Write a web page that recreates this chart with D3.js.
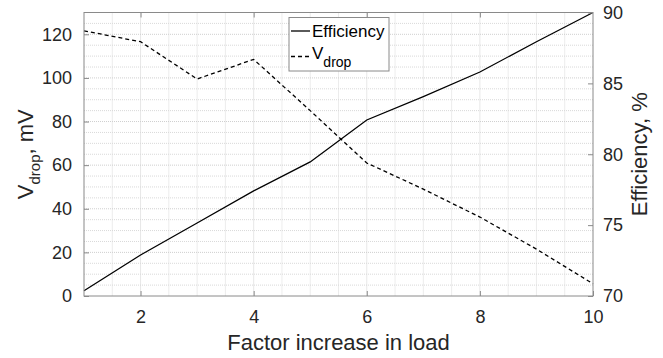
<!DOCTYPE html>
<html>
<head>
<meta charset="utf-8">
<title>Efficiency and Vdrop</title>
<script src="https://d3js.org/d3.v7.min.js"></script>
<style>
body { margin: 0; background: #fff; }
svg { font-family: "Liberation Sans", Arial, sans-serif; }
.tick text { fill: #262626; font-size: 18px; }
.line { fill: none; stroke: #000; stroke-width: 1.3px; }
</style>
</head>
<body>
<script>
// data
var loadFactor = [1, 2, 3, 4, 5, 6, 7, 8, 9, 10];
var efficiency = [70.37, 72.89, 75.15, 77.42, 79.46, 82.42, 84.07, 85.8, 87.94, 90.0];
var vdrop = [121.6, 116.6, 99.5, 108.5, 85, 61, 49, 36.2, 21.5, 5.6];
var xTicks = [2, 4, 6, 8, 10];
var leftTicks = [0, 20, 40, 60, 80, 100, 120];
var rightTicks = [70, 75, 80, 85, 90];

var width = 663, height = 358;
var margin = {top: 12.5, right: 70, bottom: 62, left: 84};
var w = width - margin.left - margin.right;
var h = height - margin.top - margin.bottom;

var svg = d3.select("body").append("svg")
  .attr("width", width).attr("height", height);
var g = svg.append("g")
  .attr("transform", "translate(" + margin.left + "," + margin.top + ")");

var x = d3.scaleLinear().domain([1, 10]).range([0, w]);
var yL = d3.scaleLinear().domain([0, 130]).range([h, 0]);
var yR = d3.scaleLinear().domain([70, 90]).range([h, 0]);

// grid (major + minor, dotted)
var grid = g.append("g");
grid.selectAll(".vmin").data(d3.range(1.5, 10, 0.5)).enter().append("line")
  .attr("x1", d => x(d)).attr("x2", d => x(d)).attr("y1", 0).attr("y2", h)
  .attr("stroke", d => d % 2 == 0 ? "#cfcfcf" : "#d9d9d9")
  .attr("stroke-dasharray", "1,1");
grid.selectAll(".hmin").data(d3.range(5, 130, 5)).enter().append("line")
  .attr("y1", d => yL(d)).attr("y2", d => yL(d)).attr("x1", 0).attr("x2", w)
  .attr("stroke", d => d % 20 == 0 ? "#cfcfcf" : "#d9d9d9")
  .attr("stroke-dasharray", "1,1");

// lines
var effLine = d3.line().x((d, i) => x(loadFactor[i])).y(d => yR(d));
var vLine = d3.line().x((d, i) => x(loadFactor[i])).y(d => yL(d));
g.append("path").datum(efficiency).attr("class", "line").attr("d", effLine);
g.append("path").datum(vdrop).attr("class", "line")
  .attr("stroke-dasharray", "4,3").attr("d", vLine);

// axes (ticks point inward)
function styleAxis(sel) {
  sel.select(".domain").remove();
  sel.selectAll(".tick line").attr("stroke", "#8a8a8a");
}
g.append("g").attr("transform", "translate(0," + h + ")")
  .call(d3.axisBottom(x).tickValues(xTicks).tickSizeInner(-5).tickSizeOuter(0).tickPadding(14))
  .call(styleAxis);
g.append("g")
  .call(d3.axisTop(x).tickValues(xTicks.slice(0, 4)).tickSizeInner(-5).tickSizeOuter(0).tickFormat(""))
  .call(styleAxis);
g.append("g")
  .call(d3.axisLeft(yL).tickValues(leftTicks).tickSizeInner(-5).tickSizeOuter(0).tickPadding(12))
  .call(styleAxis);
g.append("g").attr("transform", "translate(" + w + ",0)")
  .call(d3.axisRight(yR).tickValues(rightTicks).tickSizeInner(-5).tickSizeOuter(0).tickPadding(10))
  .call(styleAxis);

g.append("rect").attr("width", w).attr("height", h)
  .attr("fill", "none").attr("stroke", "#8a8a8a").attr("stroke-width", 1);

// axis labels
svg.append("text")
  .attr("x", margin.left + w / 2).attr("y", 350)
  .attr("text-anchor", "middle").attr("font-size", 22).attr("fill", "#262626")
  .text("Factor increase in load");

var lt = svg.append("text")
  .attr("transform", "translate(33," + (margin.top + h / 2) + ") rotate(-90)")
  .attr("text-anchor", "middle").attr("font-size", 22).attr("fill", "#262626");
lt.append("tspan").text("V");
lt.append("tspan").attr("font-size", 15).attr("dy", 7).text("drop");
lt.append("tspan").attr("dy", -7).text(", mV");

svg.append("text")
  .attr("transform", "translate(647," + (margin.top + h / 2) + ") rotate(-90)")
  .attr("text-anchor", "middle").attr("font-size", 22).attr("fill", "#262626")
  .text("Efficiency, %");

// legend
var lg = svg.append("g").attr("transform", "translate(289,17.5)");
lg.append("rect").attr("width", 100).attr("height", 53.5)
  .attr("fill", "#fff").attr("stroke", "#8a8a8a");
lg.append("line").attr("x1", 2).attr("x2", 21).attr("y1", 13.5).attr("y2", 13.5)
  .attr("stroke", "#000").attr("stroke-width", 1.3);
lg.append("line").attr("x1", 2).attr("x2", 21).attr("y1", 39).attr("y2", 39)
  .attr("stroke", "#000").attr("stroke-width", 1.3).attr("stroke-dasharray", "4,3");
lg.append("text").attr("x", 23).attr("y", 19.5).attr("font-size", 17)
  .attr("fill", "#000").text("Efficiency");
var lv = lg.append("text").attr("x", 23).attr("y", 41).attr("font-size", 17).attr("fill", "#000");
lv.append("tspan").text("V");
lv.append("tspan").attr("font-size", 14).attr("dy", 8).text("drop");
</script>
</body>
</html>
